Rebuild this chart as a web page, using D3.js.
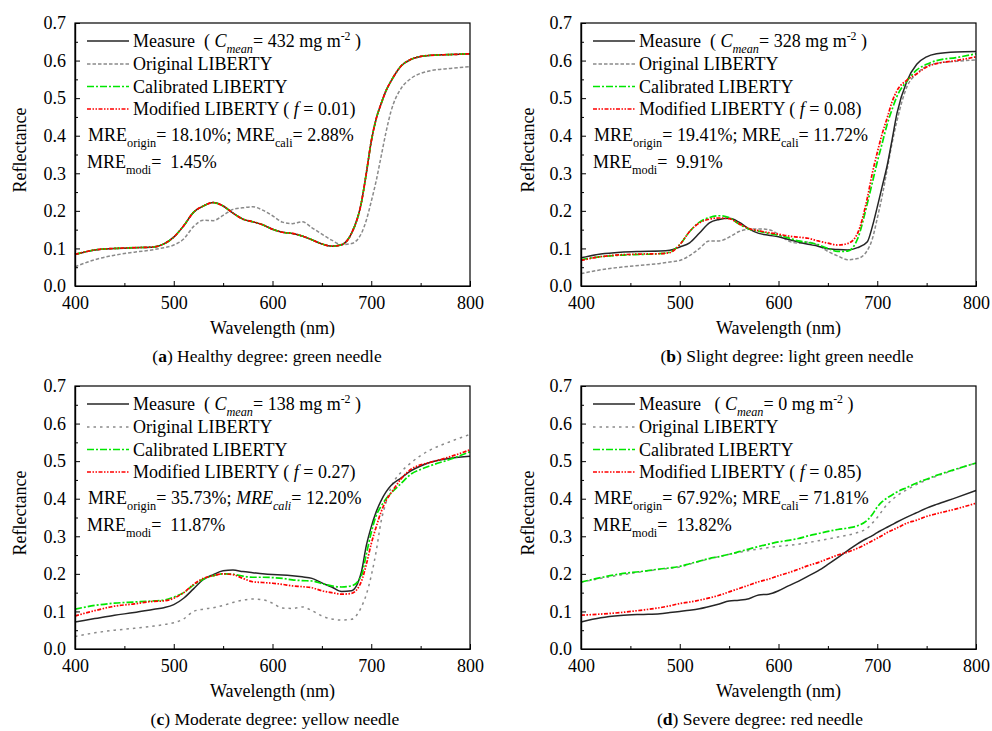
<!DOCTYPE html>
<html><head><meta charset="utf-8">
<script src="https://cdn.jsdelivr.net/npm/d3@7"></script>
<style>
body{margin:0;background:#fff}
svg text, svg tspan{font-family:"Liberation Serif","Times New Roman",serif;}
</style>
</head><body><svg id="c" width="992" height="731" font-family="Liberation Serif"></svg>
<script>
// Shared wavelength grid (nm)
const wavelength = [400,420,440,460,480,490,500,510,520,530,540,550,560,570,580,590,600,610,620,630,640,650,660,670,680,690,695,700,705,710,715,720,730,740,750,760,780,800];

// (a) Healthy degree
const aMeasure    = [.084,.096,.100,.102,.104,.112,.130,.160,.196,.213,.222,.213,.194,.178,.171,.163,.151,.143,.140,.133,.123,.112,.106,.110,.140,.222,.300,.385,.445,.485,.520,.545,.585,.603,.611,.614,.616,.618];
const aOriginal   = [.051,.070,.082,.090,.097,.102,.109,.125,.158,.175,.174,.188,.204,.208,.211,.202,.187,.170,.166,.171,.155,.138,.122,.110,.113,.140,.175,.225,.280,.345,.410,.465,.525,.552,.566,.573,.579,.584];
const aCalibrated = [.084,.096,.100,.102,.104,.112,.130,.160,.196,.213,.222,.213,.194,.178,.171,.163,.151,.143,.140,.133,.123,.112,.106,.110,.140,.222,.300,.385,.445,.485,.520,.545,.585,.603,.611,.614,.616,.618];
const aModified   = [.084,.096,.100,.102,.104,.112,.130,.160,.196,.213,.222,.213,.194,.178,.171,.163,.151,.143,.140,.133,.123,.112,.106,.110,.140,.222,.300,.385,.445,.485,.520,.545,.585,.603,.611,.614,.616,.618];

// (b) Slight degree
const bMeasure    = [.075,.085,.090,.092,.093,.095,.104,.115,.141,.168,.177,.180,.170,.152,.140,.135,.131,.124,.117,.111,.106,.099,.097,.096,.102,.118,.158,.210,.265,.320,.389,.460,.545,.590,.610,.618,.623,.624];
const bOriginal   = [.033,.043,.050,.055,.060,.064,.068,.081,.100,.120,.120,.130,.145,.151,.152,.150,.138,.120,.114,.117,.108,.092,.080,.070,.073,.095,.125,.180,.240,.310,.380,.440,.530,.565,.585,.593,.598,.602];
const bCalibrated = [.070,.078,.082,.084,.086,.090,.110,.145,.170,.182,.187,.182,.165,.152,.146,.140,.135,.128,.120,.116,.110,.100,.092,.093,.125,.220,.275,.330,.380,.430,.470,.505,.545,.575,.590,.600,.608,.618];
const bModified   = [.068,.078,.083,.085,.086,.089,.110,.145,.168,.178,.181,.179,.166,.153,.147,.142,.138,.133,.130,.127,.120,.114,.109,.113,.140,.235,.300,.355,.405,.447,.490,.520,.548,.565,.583,.592,.600,.610];

// (c) Moderate degree
const cMeasure    = [.072,.081,.090,.097,.106,.110,.118,.135,.160,.185,.198,.208,.210,.206,.203,.200,.198,.197,.195,.192,.188,.176,.165,.153,.155,.205,.275,.325,.365,.395,.418,.435,.455,.474,.487,.497,.508,.513];
const cOriginal   = [.033,.043,.050,.055,.061,.065,.070,.080,.100,.106,.110,.116,.124,.130,.133,.131,.122,.109,.108,.112,.102,.088,.080,.077,.079,.112,.145,.195,.260,.340,.390,.430,.470,.495,.515,.530,.552,.571];
const cCalibrated = [.106,.116,.122,.125,.128,.130,.138,.150,.170,.186,.195,.200,.199,.194,.191,.191,.190,.188,.184,.182,.181,.174,.168,.165,.168,.195,.252,.310,.355,.380,.400,.415,.440,.465,.478,.488,.505,.525];
const cModified   = [.088,.102,.114,.120,.127,.128,.135,.150,.172,.188,.195,.200,.198,.188,.179,.177,.175,.172,.168,.166,.163,.155,.150,.146,.148,.180,.225,.280,.325,.365,.395,.415,.452,.478,.490,.497,.512,.530];

// (d) Severe degree
const dMeasure    = [.072,.083,.089,.092,.094,.097,.100,.103,.107,.113,.120,.128,.130,.134,.144,.146,.155,.168,.180,.194,.208,.225,.243,.262,.280,.295,.302,.310,.317,.324,.331,.338,.351,.363,.375,.385,.403,.422];
const dOriginal   = [.178,.188,.197,.205,.212,.215,.218,.226,.233,.240,.246,.252,.257,.262,.266,.270,.273,.276,.279,.283,.288,.293,.298,.303,.310,.322,.335,.350,.368,.385,.397,.408,.424,.438,.450,.460,.478,.495];
const dCalibrated = [.178,.190,.200,.206,.213,.216,.220,.227,.234,.241,.246,.252,.259,.266,.273,.279,.285,.289,.294,.301,.307,.313,.318,.322,.328,.343,.358,.378,.392,.402,.410,.418,.430,.442,.452,.462,.479,.495];
const dModified   = [.090,.093,.097,.103,.110,.115,.121,.125,.130,.136,.143,.152,.161,.170,.179,.186,.195,.203,.212,.222,.230,.240,.250,.258,.268,.281,.288,.295,.302,.310,.316,.322,.335,.343,.353,.360,.373,.388];

const xTicks = [400,500,600,700,800];
const xMinorTicks = [450,550,650,750];
const yTicks = [0,0.1,0.2,0.3,0.4,0.5,0.6,0.7];
const yMinorTicks = [0.05,0.15,0.25,0.35,0.45,0.55,0.65];

const FONT = "Liberation Serif";

const panels = [
  {ox:0, oy:0, series:[aOriginal,aMeasure,aCalibrated,aModified], cmean:"432", f:"0.01", grayDash:"3.5,2",
   mre1:[["MRE"],["origin","sub"],["= 18.10%; MRE"],["cali","sub"],["= 2.88%"]],
   mre2:[["MRE"],["modi","sub"],["=\u00a0 1.45%"]], meas:"Measure\u00a0 ( ",
   cap:[["("],["a","b"],[") Healthy degree: green needle"]], capX:267, ylabX:20},
  {ox:506, oy:0, series:[bOriginal,bMeasure,bCalibrated,bModified], cmean:"328", f:"0.08", grayDash:"3.5,2",
   mre1:[["MRE"],["origin","sub"],["= 19.41%; MRE"],["cali","sub"],["= 11.72%"]],
   mre2:[["MRE"],["modi","sub"],["=\u00a0 9.91%"]], meas:"Measure\u00a0 ( ",
   cap:[["("],["b","b"],[") Slight degree: light green needle"]], capX:787, ylabX:528},
  {ox:0, oy:363, series:[cOriginal,cMeasure,cCalibrated,cModified], cmean:"138", f:"0.27", grayDash:"2.5,4",
   mre1:[["MRE"],["origin","sub"],["= 35.73%; "],["MRE","i"],["cali","isub"],["= 12.20%"]],
   mre2:[["MRE"],["modi","sub"],["=\u00a0 11.87%"]], meas:"Measure\u00a0 ( ",
   cap:[["("],["c","b"],[") Moderate degree: yellow needle"]], capX:275, ylabX:20},
  {ox:506, oy:363, series:[dOriginal,dMeasure,dCalibrated,dModified], cmean:"0", f:"0.85", grayDash:"2.5,4",
   mre1:[["MRE"],["origin","sub"],["= 67.92%; MRE"],["cali","sub"],["= 71.81%"]],
   mre2:[["MRE"],["modi","sub"],["=\u00a0 13.82%"]], meas:"Measure\u00a0\u00a0 ( ",
   cap:[["("],["d","b"],[") Severe degree: red needle"]], capX:760, ylabX:528}
];

const styles = [
  {stroke:"#8a8a8a", dash:"3.5,2", w:1.5},        // Original
  {stroke:"#262626", dash:null, w:1.5},           // Measure
  {stroke:"#00e600", dash:"7,2,2,2", w:1.7},      // Calibrated
  {stroke:"#ff0000", dash:"4,1.5,1.5,1.5,1.5,1.5", w:1.7} // Modified
];

const svg = d3.select("#c");
const W = 395, H = 263, L = 75, T = 23;

function rich(g, x, y, segs, size, anchor) {
  const t = g.append("text").attr("x", x).attr("y", y)
    .attr("font-family", FONT).attr("font-size", size).attr("fill", "#000");
  if (anchor) t.attr("text-anchor", anchor);
  let shift = 0;
  segs.forEach(([s, st]) => {
    const sp = t.append("tspan").text(s);
    let target = 0, fs = size;
    if (st === "sub" || st === "isub") { target = size * 0.32; fs = size * 0.68; }
    if (st === "sup") { target = -size * 0.4; fs = size * 0.66; }
    if (st === "i" || st === "isub") sp.attr("font-style", "italic");
    if (st === "b") sp.attr("font-weight", "bold");
    if (fs !== size) sp.attr("font-size", fs);
    if (target !== shift) { sp.attr("dy", target - shift); shift = target; }
  });
  return t;
}

panels.forEach(p => {
  const g = svg.append("g").attr("transform", `translate(${p.ox},${p.oy})`);
  const x = d3.scaleLinear().domain([400, 800]).range([L, L + W]);
  const y = d3.scaleLinear().domain([0, 0.7]).range([T + H, T]);
  const sty = styles.map((s, i) => i === 0 ? Object.assign({}, s, {dash: p.grayDash}) : s);

  // curves
  const line = d3.line().x(d => x(d[0])).y(d => y(d[1])).curve(d3.curveMonotoneX);
  p.series.forEach((s, i) => {
    const st = sty[i];
    g.append("path").datum(wavelength.map((w, k) => [w, s[k]]))
      .attr("fill", "none").attr("stroke", st.stroke).attr("stroke-width", st.w)
      .attr("stroke-dasharray", st.dash).attr("stroke-linejoin", "round").attr("d", line);
  });

  // frame
  g.append("rect").attr("x", L).attr("y", T).attr("width", W).attr("height", H)
    .attr("fill", "none").attr("stroke", "#000").attr("stroke-width", 1.2);

  // axes
  const axes = [
    g.append("g").attr("transform", `translate(0,${T + H})`)
      .call(d3.axisBottom(x).tickValues(xTicks).tickSize(-5).tickSizeOuter(0).tickPadding(10).tickFormat(d3.format("d"))),
    g.append("g").attr("transform", `translate(0,${T + H})`)
      .call(d3.axisBottom(x).tickValues(xMinorTicks).tickSize(-3).tickSizeOuter(0).tickFormat("")),
    g.append("g").attr("transform", `translate(${L},0)`)
      .call(d3.axisLeft(y).tickValues(yTicks).tickSize(-5).tickSizeOuter(0).tickPadding(9).tickFormat(d3.format(".1f"))),
    g.append("g").attr("transform", `translate(${L},0)`)
      .call(d3.axisLeft(y).tickValues(yMinorTicks).tickSize(-3).tickSizeOuter(0).tickFormat(""))
  ];
  axes.forEach(a => a.attr("font-family", FONT).attr("font-size", 18));
  g.selectAll(".domain").attr("stroke", "#000").attr("stroke-width", 1.2);
  g.selectAll(".tick line").attr("stroke", "#000").attr("stroke-width", 1);
  g.selectAll(".tick text").attr("font-family", FONT).attr("font-size", 18).attr("fill", "#000");

  // axis titles
  g.append("text").attr("x", L + W / 2).attr("y", 334).attr("text-anchor", "middle")
    .attr("font-family", FONT).attr("font-size", 18).text("Wavelength (nm)");
  g.append("text").attr("transform", `translate(${p.ylabX - p.ox + 6},150) rotate(-90)`)
    .attr("text-anchor", "middle").attr("font-family", FONT).attr("font-size", 18).text("Reflectance");

  // legend
  const rowY = [41, 64, 86.5, 109];
  const labels = [
    [[p.meas], ["C", "i"], ["mean", "isub"], ["= " + p.cmean + " mg m"], ["-2", "sup"], [" )"]],
    [["Original LIBERTY"]],
    [["Calibrated LIBERTY"]],
    [["Modified LIBERTY ( "], ["f", "i"], [" = " + p.f + ")"]]
  ];
  const order = [1, 0, 2, 3];
  order.forEach((si, r) => {
    const st = sty[si];
    g.append("line").attr("x1", L + 12).attr("x2", L + 54).attr("y1", rowY[r]).attr("y2", rowY[r])
      .attr("stroke", st.stroke).attr("stroke-width", st.w).attr("stroke-dasharray", st.dash);
    rich(g, L + 58, rowY[r] + 6, labels[r], 18);
  });
  rich(g, L + 13, 141, p.mre1, 18);
  rich(g, L + 12, 168, p.mre2, 18);

  // caption
  rich(g, p.capX - p.ox, 362, p.cap, 17.5, "middle");
});
</script></body></html>
